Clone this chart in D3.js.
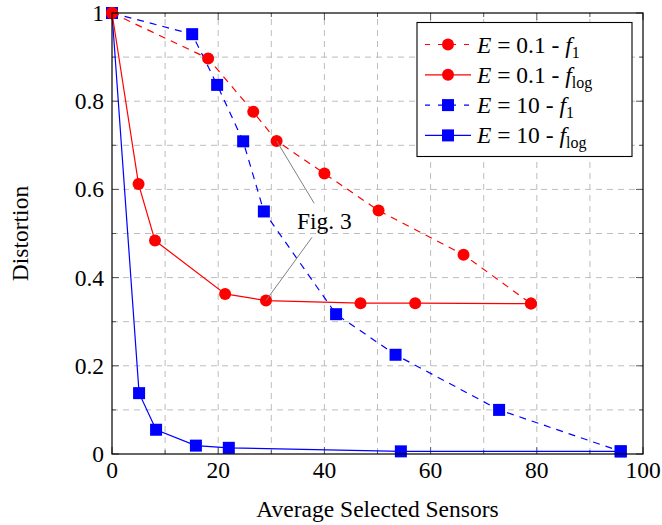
<!DOCTYPE html>
<html lang="en">
<head>
    <meta charset="UTF-8">
    <title>Distortion vs selected sensors</title>
    <script src="https://d3js.org/d3.v7.min.js"></script>
    <style>
        body { margin: 0; background: #fff; }
        svg text { font-family: "Liberation Serif", "DejaVu Serif", serif; fill: #000; }
    </style>
</head>
<body>
    <svg id="chart"></svg>
    <script>
        const width = 662;
        const height = 525;
        const margin = {top: 13, right: 19, bottom: 71, left: 112};
        const fontSize = 23.5;

        // ticks
        const xTicks = [0, 20, 40, 60, 80, 100];
        const yTicks = [0, 0.2, 0.4, 0.6, 0.8, 1];
        const xMinor = [10, 30, 50, 70, 90];
        const yMinor = [0.1, 0.3, 0.5, 0.7, 0.9];

        // E = 0.1 - f1 (red, dashed)
        const e01f1X = [0, 18.1, 26.6, 31.0, 40.0, 50.2, 66.2, 78.9];
        const e01f1Y = [1, 0.897, 0.776, 0.710, 0.636, 0.552, 0.452, 0.341];
        // E = 0.1 - flog (red, solid)
        const e01flogX = [0, 5.0, 8.1, 21.3, 29.0, 46.8, 57.1, 78.9];
        const e01flogY = [1, 0.612, 0.484, 0.363, 0.348, 0.342, 0.342, 0.341];
        // E = 10 - f1 (blue, dashed)
        const e10f1X = [0, 15.1, 19.8, 24.7, 28.6, 42.2, 53.4, 72.9, 95.8];
        const e10f1Y = [1, 0.952, 0.837, 0.709, 0.550, 0.317, 0.225, 0.100, 0.006];
        // E = 10 - flog (blue, solid)
        const e10flogX = [0, 5.1, 8.3, 15.8, 22.0, 54.4, 95.8];
        const e10flogY = [1, 0.138, 0.055, 0.019, 0.014, 0.006, 0.006];

        const series = [
            {E: "10", sub: "log", xs: e10flogX, ys: e10flogY, color: "#0000ff", dash: null, marker: "square"},
            {E: "10", sub: "1", xs: e10f1X, ys: e10f1Y, color: "#0000ff", dash: "7,6", marker: "square"},
            {E: "0.1", sub: "log", xs: e01flogX, ys: e01flogY, color: "#ff0000", dash: null, marker: "circle"},
            {E: "0.1", sub: "1", xs: e01f1X, ys: e01f1Y, color: "#ff0000", dash: "7,6", marker: "circle"}
        ];
        const legendOrder = [3, 2, 1, 0];

        // annotation
        const annoText = "Fig. 3";
        const annoX = 40;
        const annoY = 0.53;
        const annoTargets = [[31.0, 0.710], [29.0, 0.348]];

        const svg = d3.select("#chart")
            .attr("width", width)
            .attr("height", height);

        const x = d3.scaleLinear().domain([0, 100]).range([margin.left, width - margin.right]);
        const y = d3.scaleLinear().domain([0, 1]).range([height - margin.bottom, margin.top]);

        const x0 = x(0), x1 = x(100), y0 = y(0), y1 = y(1);

        // grid
        const grid = svg.append("g").attr("stroke", "#bdbdbd").attr("stroke-width", 1).attr("stroke-dasharray", "6,5");
        grid.selectAll(".gx").data(xTicks.concat(xMinor).filter(d => d > 0 && d < 100)).join("line")
            .attr("x1", d => x(d)).attr("x2", d => x(d)).attr("y1", y0).attr("y2", y1);
        grid.selectAll(".gy").data(yTicks.concat(yMinor).filter(d => d > 0 && d < 1)).join("line")
            .attr("y1", d => y(d)).attr("y2", d => y(d)).attr("x1", x0).attr("x2", x1);

        // tick marks (inward, all four sides)
        const ticks = svg.append("g").attr("stroke", "#555").attr("stroke-width", 1);
        const tickLen = d => (xTicks.includes(d) ? 7 : 4);
        const yTickLen = d => (yTicks.includes(d) ? 7 : 4);
        xTicks.concat(xMinor).forEach(d => {
            ticks.append("line").attr("x1", x(d)).attr("x2", x(d)).attr("y1", y0).attr("y2", y0 - tickLen(d));
            ticks.append("line").attr("x1", x(d)).attr("x2", x(d)).attr("y1", y1).attr("y2", y1 + tickLen(d));
        });
        yTicks.concat(yMinor).forEach(d => {
            ticks.append("line").attr("y1", y(d)).attr("y2", y(d)).attr("x1", x0).attr("x2", x0 + yTickLen(d));
            ticks.append("line").attr("y1", y(d)).attr("y2", y(d)).attr("x1", x1).attr("x2", x1 - yTickLen(d));
        });

        // tick labels
        svg.append("g").selectAll("text").data(xTicks).join("text")
            .attr("x", d => x(d)).attr("y", y0 + 24)
            .attr("text-anchor", "middle").style("font-size", fontSize + "px")
            .text(d => d);
        svg.append("g").selectAll("text").data(yTicks).join("text")
            .attr("x", x0 - 8).attr("y", d => y(d) + 8)
            .attr("text-anchor", "end").style("font-size", fontSize + "px")
            .text(d => d);

        // axis labels
        svg.append("text")
            .attr("x", (x0 + x1) / 2).attr("y", 517)
            .attr("text-anchor", "middle").style("font-size", fontSize + "px")
            .text("Average Selected Sensors");
        svg.append("text")
            .attr("transform", `translate(28,${(y0 + y1) / 2}) rotate(-90)`)
            .attr("text-anchor", "middle").style("font-size", fontSize + "px")
            .text("Distortion");

        // data
        const line = d3.line().x(d => x(d[0])).y(d => y(d[1]));
        const markerSize = 12;

        function drawMarker(g, type, cx, cy, color) {
            if (type === "circle") {
                g.append("circle").attr("cx", cx).attr("cy", cy).attr("r", markerSize / 2).attr("fill", color);
            } else {
                g.append("rect").attr("x", cx - markerSize / 2).attr("y", cy - markerSize / 2)
                    .attr("width", markerSize).attr("height", markerSize).attr("fill", color);
            }
        }

        series.forEach(s => {
            const pts = s.xs.map((v, i) => [v, s.ys[i]]);
            const g = svg.append("g");
            g.append("path")
                .attr("d", line(pts))
                .attr("fill", "none")
                .attr("stroke", s.color)
                .attr("stroke-width", 1.2)
                .attr("stroke-dasharray", s.dash);
            pts.forEach(p => drawMarker(g, s.marker, x(p[0]), y(p[1]), s.color));
        });

        // annotation: lines run from each point toward the label and stop at its box
        const ax = x(annoX), ay = y(annoY);
        const boxW = 34, boxH = 17;
        annoTargets.forEach(t => {
            const px = x(t[0]), py = y(t[1]);
            const dx = ax - px, dy = ay - py;
            const tt = Math.max(1 - boxW / Math.abs(dx), 1 - boxH / Math.abs(dy));
            svg.append("line")
                .attr("x1", px).attr("y1", py)
                .attr("x2", px + dx * tt).attr("y2", py + dy * tt)
                .attr("stroke", "#808080").attr("stroke-width", 1);
        });
        svg.append("text")
            .attr("x", ax).attr("y", ay + 9)
            .attr("text-anchor", "middle").style("font-size", fontSize + "px")
            .text(annoText);

        // frame
        svg.append("rect")
            .attr("x", x0).attr("y", y1).attr("width", x1 - x0).attr("height", y0 - y1)
            .attr("fill", "none").attr("stroke", "#000").attr("stroke-width", 1.2);

        // legend
        const lx = 417, ly = 22.5, lw = 215, lh = 134;
        const legend = svg.append("g");
        legend.append("rect")
            .attr("x", lx).attr("y", ly).attr("width", lw).attr("height", lh)
            .attr("fill", "#fff").attr("stroke", "#000").attr("stroke-width", 1.1);
        legendOrder.forEach((si, i) => {
            const s = series[si];
            const cy = 44.5 + i * 30.3;
            legend.append("line")
                .attr("x1", 425).attr("x2", 471).attr("y1", cy).attr("y2", cy)
                .attr("stroke", s.color).attr("stroke-width", 1.2)
                .attr("stroke-dasharray", s.dash ? "5,8" : null);
            drawMarker(legend, s.marker, 448, cy, s.color);
            const t = legend.append("text")
                .attr("x", 477).attr("y", cy + 8)
                .style("font-size", fontSize + "px");
            t.append("tspan").style("font-style", "italic").text("E");
            t.append("tspan").text(` = ${s.E} - `);
            t.append("tspan").style("font-style", "italic").text("f");
            t.append("tspan").attr("dy", 5).style("font-size", "16px").text(s.sub);
        });
    </script>
</body>
</html>
